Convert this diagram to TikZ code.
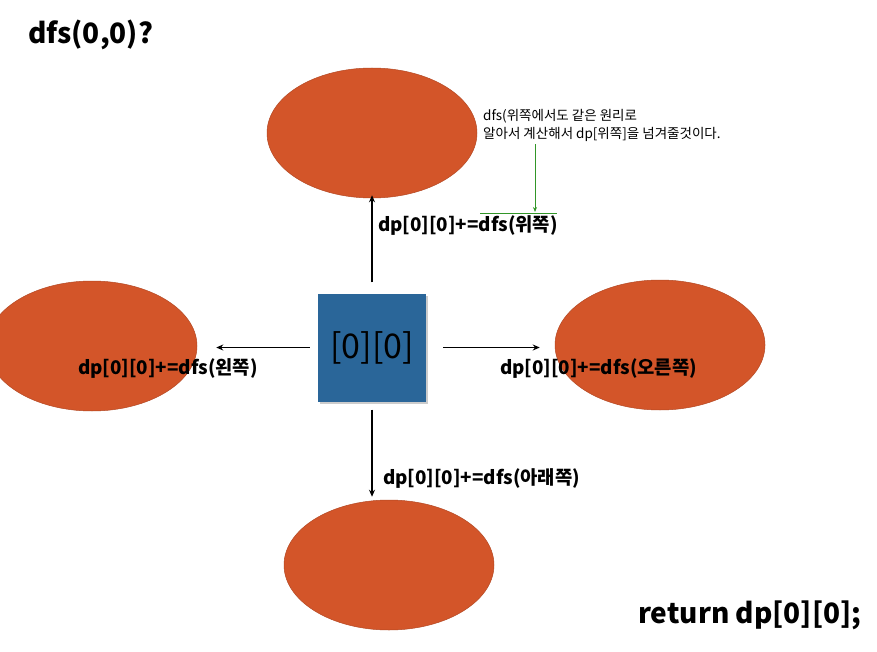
\documentclass[tikz,border=0pt]{standalone}
\usepackage{fontspec}
\setmainfont{Noto Sans CJK KR}
\usetikzlibrary{arrows.meta,shadows,shapes.geometric}

\definecolor{blobred}{RGB}{211,85,41}
\definecolor{cellblue}{RGB}{42,102,153}
\definecolor{notegreen}{RGB}{50,150,40}

\begin{document}
\begin{tikzpicture}
	[x=1pt, y=-1pt,
	blob/.style={ellipse,fill=blobred,draw=blobred!85!black,line width=0.5pt,minimum width=210pt,minimum height=130pt},
	cell/.style={rectangle,fill=cellblue,minimum size=108pt,inner sep=0pt,drop shadow={shadow xshift=2pt,shadow yshift=-2pt,fill=black!40}},
	step arrow/.style={-{Stealth[length=7pt,width=6pt]},line width=1.3pt},
	lbl/.style={font=\bfseries\fontsize{18.8}{20}\selectfont,inner sep=0pt,anchor=west},
	big/.style={font=\bfseries\fontsize{28}{32}\selectfont,inner sep=0pt,anchor=west}]
	\useasboundingbox (0,0) rectangle (877,652);
	\node (up) [blob] at (372,133) {};
	\node (left) [blob] at (92,346) {};
	\node (right) [blob] at (660,345) {};
	\node (down) [blob] at (389,565) {};
	\node (cell) [cell] at (372,347.5) {\fontsize{34}{38}\selectfont [0][0]};
	% arrows out of the cell
	\draw [step arrow, shorten <=11pt, shorten >=-3pt] (cell.north) -- (cell.north |- up.south);
	\draw [step arrow, shorten <=8pt, shorten >=19pt] (cell.west) -- (cell.west -| left.east);
	\draw [step arrow, shorten <=17pt, shorten >=15pt] (cell.east) -- (cell.east -| right.west);
	\draw [step arrow, shorten <=8pt, shorten >=3pt] (cell.south) -- (cell.south |- down.north);
	\node (lup) [lbl] at (378,226) {dp[0][0]+=dfs(위쪽)};
	\node (lleft) [lbl] at (78,369) {dp[0][0]+=dfs(왼쪽)};
	\node (lright) [lbl] at (500,369) {dp[0][0]+=dfs(오른쪽)};
	\node (ldown) [lbl] at (383,479) {dp[0][0]+=dfs(아래쪽)};
	\node (title) [big] at (28,35) {dfs(0,0)?};
	\node (ret) [big] at (638,615) {return dp[0][0];};
	\node (note) [anchor=west,inner sep=0pt,align=left,font=\fontsize{13.5}{18}\selectfont] at (483,125)
		{dfs(위쪽에서도 같은 원리로\\알아서 계산해서 dp[위쪽]을 넘겨줄것이다.};
	% green callout
	\coordinate (tip) at (535,212);
	\draw [notegreen, line width=0.8pt] (480,213) -- (557,213);
	\draw [notegreen, line width=0.8pt, -{Stealth[length=5pt,width=4pt]}] (note.south -| tip) ++(0,3) -- (tip);
\end{tikzpicture}
\end{document}
